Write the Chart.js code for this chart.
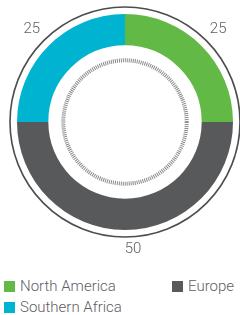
<!DOCTYPE html>
<html lang="en">
<head>
  <meta charset="UTF-8" />
  <title>Regional split</title>
  <style>
    body {
      margin: 0;
      width: 240px;
      height: 315px;
      background: #fff;
      font-family: Roboto, 'Liberation Sans', sans-serif;
      overflow: hidden;
    }
    #chartBox {
      position: absolute;
      left: 0;
      top: 0;
      width: 240px;
      height: 266px;
    }
    #legend {
      position: absolute;
      left: 4px;
      top: 277px;
      display: grid;
      grid-template-columns: 168px auto;
      row-gap: 3px;
    }
    .item {
      display: flex;
      align-items: center;
      height: 18px;
      font-size: 15px;
      font-weight: 300;
      color: #5f6063;
      white-space: nowrap;
    }
    .swatch {
      width: 11px;
      height: 11px;
      margin-right: 5px;
    }
  </style>
</head>
<body>
  <div id="chartBox"><canvas id="donut"></canvas></div>
  <div id="legend"></div>

  <script src="https://cdn.jsdelivr.net/npm/chart.js"></script>
  <script>
    // data, clockwise from 12 o'clock
    const regions = ['North America', 'Europe', 'Southern Africa'];
    const shares = [25, 50, 25];
    const colours = ['#63b946', '#58595b', '#00b3d1'];

    // outer thin ring, dotted inner ring and the value labels
    const decorPlugin = {
      id: 'decor',
      afterDraw(chart) {
        const ctx = chart.ctx;
        const arcs = chart.getDatasetMeta(0).data;
        if (!arcs.length) return;
        const cx = arcs[0].x, cy = arcs[0].y;
        const outer = arcs[0].outerRadius, inner = arcs[0].innerRadius;

        ctx.save();
        ctx.beginPath();
        ctx.arc(cx, cy, outer + 7, 0, Math.PI * 2);
        ctx.strokeStyle = '#4d4d4f';
        ctx.lineWidth = 1.6;
        ctx.stroke();

        ctx.beginPath();
        ctx.arc(cx, cy, inner - 15, 0, Math.PI * 2);
        ctx.setLineDash([1, 1]);
        ctx.strokeStyle = '#8a8a8c';
        ctx.lineWidth = 4;
        ctx.stroke();
        ctx.setLineDash([]);

        ctx.font = '300 15px Roboto, "Liberation Sans", sans-serif';
        ctx.fillStyle = '#5f6063';
        arcs.forEach((arc, i) => {
          const mid = (arc.startAngle + arc.endAngle) / 2;
          const c = Math.cos(mid), s = Math.sin(mid);
          const r = outer + 12;
          ctx.textAlign = c > 0.1 ? 'left' : (c < -0.1 ? 'right' : 'center');
          ctx.textBaseline = s > 0.1 ? 'top' : (s < -0.1 ? 'bottom' : 'middle');
          ctx.fillText(String(shares[i]), cx + c * r + (Math.abs(c) < 0.1 ? 8 : 0), cy + s * r);
        });
        ctx.restore();
      }
    };

    new Chart(document.getElementById('donut').getContext('2d'), {
      type: 'doughnut',
      data: {
        labels: regions,
        datasets: [{
          data: shares,
          backgroundColor: colours,
          borderWidth: 0
        }]
      },
      options: {
        responsive: true,
        maintainAspectRatio: false,
        animation: false,
        cutout: '71%',
        layout: { padding: { left: 10, right: 0, top: 14, bottom: 36 } },
        plugins: {
          legend: { display: false },
          tooltip: { enabled: false }
        }
      },
      plugins: [decorPlugin]
    });

    // html legend: North America, Europe / Southern Africa
    const legend = document.getElementById('legend');
    regions.forEach((name, i) => {
      const item = document.createElement('div');
      item.className = 'item';
      const sw = document.createElement('span');
      sw.className = 'swatch';
      sw.style.background = colours[i];
      item.appendChild(sw);
      item.appendChild(document.createTextNode(name));
      legend.appendChild(item);
    });
  </script>
</body>
</html>
